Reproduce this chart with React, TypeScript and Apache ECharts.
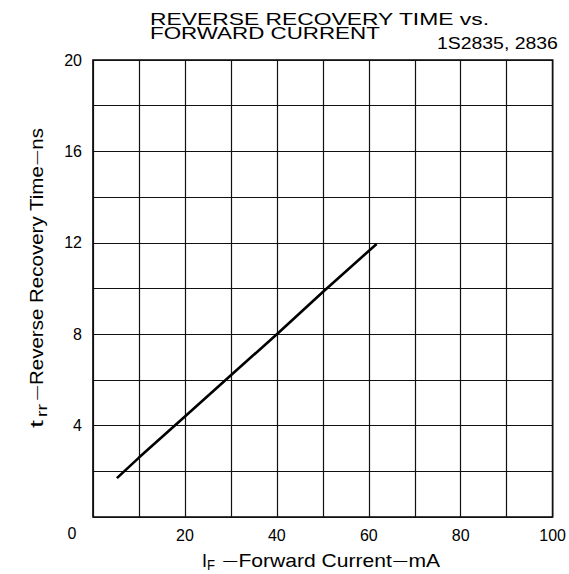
import React, { useEffect, useRef } from "react";
import * as echarts from "echarts";

const currentMA = [5.2, 10, 20, 30, 40, 50, 61.7];
const trrNs = [1.7, 2.6, 4.4, 6.2, 8.0, 9.85, 11.95];

const xTickLabels = ["20", "40", "60", "80", "100"];
const yTickLabels = ["4", "8", "12", "16", "20"];

const titleLine1 = "REVERSE RECOVERY TIME vs.";
const titleLine2 = "FORWARD CURRENT";
const partNumber = "1S2835, 2836";

const FONT = '"Liberation Sans", Arial, Helvetica, sans-serif';

function measure(text: string, size: number): number {
  const c = document.createElement("canvas");
  const ctx = c.getContext("2d");
  if (!ctx) return text.length * size * 0.55;
  ctx.font = `${size}px ${FONT}`;
  return ctx.measureText(text).width;
}

function fitText(text: string, size: number, x: number, y: number, width: number, extra: any = {}) {
  const w = measure(text, size);
  return {
    type: "text",
    x,
    y,
    scaleX: width / w,
    silent: true,
    ...extra,
    style: {
      text,
      x: 0,
      y: 0,
      fontSize: size,
      fontFamily: FONT,
      fill: "#000",
      textAlign: "left",
      textVerticalAlign: "middle",
    },
  };
}

// rich text with a short dash: {d|—}
function dashText(words: string[], size: number, dashSize: number, x: number, y: number, width: number, extra: any = {}) {
  let natural = 0;
  let text = "";
  words.forEach((w, i) => {
    if (i > 0) {
      text += "{d|\u2014}";
      natural += measure("\u2014", dashSize) + 2;
    }
    text += `{m|${w}}`;
    natural += measure(w, size);
  });
  return {
    type: "text",
    x,
    y,
    scaleX: width / natural,
    silent: true,
    ...extra,
    style: {
      text,
      x: 0,
      y: 0,
      fontSize: size,
      fontFamily: FONT,
      fill: "#000",
      textAlign: "left",
      textVerticalAlign: "middle",
      rich: {
        m: { fontSize: size, fontFamily: FONT, fill: "#000", lineHeight: size + 4 },
        d: { fontSize: dashSize, fontFamily: FONT, fill: "#000", padding: [0, 1, 0, 1], lineHeight: size + 4 },
      },
    },
  };
}

export default function App() {
  const ref = useRef<HTMLDivElement>(null);

  useEffect(() => {
    if (!ref.current) return;
    const chart = echarts.init(ref.current, null, { renderer: "svg" });
    const data = currentMA.map((x, i) => [x, trrNs[i]]);

    const graphics: any[] = [
      fitText(titleLine1, 16, 150, 19, 340),
      fitText(titleLine2, 16, 150, 33.5, 230),
      fitText(partNumber, 16, 437, 43.5, 121),
      {
        type: "text",
        x: 72,
        y: 533,
        silent: true,
        style: { text: "0", fontSize: 16, fontFamily: FONT, fill: "#000", textAlign: "center", textVerticalAlign: "middle" },
      },
      // x axis name
      {
        type: "text",
        x: 202,
        y: 560.5,
        silent: true,
        style: { text: "I", fontSize: 18, fontFamily: FONT, fill: "#000", textAlign: "left", textVerticalAlign: "middle" },
      },
      fitText("F", 14, 207, 565, 8),
      dashText(["", "Forward Current", "mA"], 18, 12, 222, 560.5, 218),
      // y axis name (rotated)
      fitText("t", 18, 37, 428, 8, { rotation: Math.PI / 2 }),
      fitText("rr", 14, 42.5, 417, 13, { rotation: Math.PI / 2 }),
      dashText(["", "Reverse Recovery Time", "ns"], 18, 12, 37, 401, 273, { rotation: Math.PI / 2 }),
    ];

    chart.setOption({
      animation: false,
      backgroundColor: "#fff",
      grid: {
        left: 93,
        right: 16,
        top: 60,
        bottom: 57,
        show: true,
        borderColor: "#000",
        borderWidth: 1.6,
        backgroundColor: "transparent",
      },
      xAxis: {
        type: "value",
        min: 0,
        max: 100,
        interval: 10,
        axisLine: { show: false },
        axisTick: { show: false },
        splitLine: { show: true, lineStyle: { color: "#111", width: 1.2 } },
        axisLabel: {
          margin: 10,
          fontSize: 16,
          fontFamily: FONT,
          color: "#000",
          formatter: (v: number) => (xTickLabels.includes(String(v)) ? String(v) : ""),
        },
      },
      yAxis: {
        type: "value",
        min: 0,
        max: 20,
        interval: 2,
        axisLine: { show: false },
        axisTick: { show: false },
        splitLine: { show: true, lineStyle: { color: "#111", width: 1.2 } },
        axisLabel: {
          margin: 11,
          fontSize: 16,
          fontFamily: FONT,
          color: "#000",
          formatter: (v: number) => (yTickLabels.includes(String(v)) ? String(v) : ""),
        },
      },
      series: [
        {
          type: "line",
          data,
          showSymbol: false,
          symbol: "none",
          smooth: false,
          lineStyle: { color: "#000", width: 2.6 },
          z: 5,
        },
      ],
      graphic: graphics,
    });
    return () => chart.dispose();
  }, []);

  return <div ref={ref} style={{ position: "absolute", left: 0, top: 0, width: 569, height: 574 }} />;
}
